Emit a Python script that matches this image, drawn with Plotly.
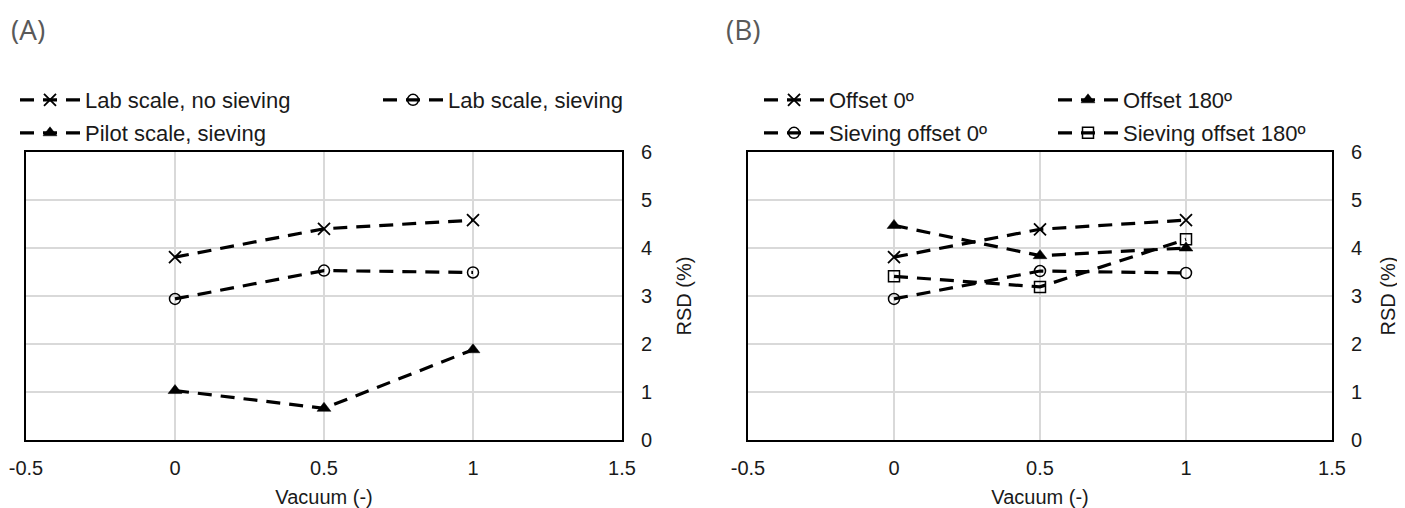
import plotly.graph_objects as go

# ---- data ----
vacuum = [0, 0.5, 1]

a_names = ["Lab scale, no sieving", "Lab scale, sieving", "Pilot scale, sieving"]
a_lab_no_sieving = [3.81, 4.40, 4.58]
a_lab_sieving = [2.94, 3.53, 3.49]
a_pilot_sieving = [1.03, 0.66, 1.88]

b_names = ["Offset 0º", "Offset 180º", "Sieving offset 0º", "Sieving offset 180º"]
b_offset0 = [3.81, 4.39, 4.58]
b_offset180 = [4.47, 3.84, 4.00]
b_sieving_offset0 = [2.94, 3.52, 3.48]
b_sieving_offset180 = [3.41, 3.19, 4.18]

x_ticks = [-0.5, 0, 0.5, 1, 1.5]
y_ticks = [0, 1, 2, 3, 4, 5, 6]

# ---- style ----
OFF = 8                      # page body margin in the browser
W, H = 1405 - OFF, 508 - OFF  # figure size so it ends at the window edge
FONT = "Liberation Sans, Arial, sans-serif"
DASH = "14px,9px"
LW = 3.2

def px_x(p):
    return (p - OFF) / W

def px_y(p):
    return 1 - (p - OFF) / H

sym = {
    "x": dict(symbol="x-thin-open", size=12, line=dict(width=1.8, color="black"), color="black"),
    "o": dict(symbol="circle-open", size=11, line=dict(width=1.5, color="black"), color="black"),
    "t": dict(symbol="triangle-up", size=12, line=dict(width=0.5, color="black"), color="black"),
    "s": dict(symbol="square-open", size=11, line=dict(width=1.5, color="black"), color="black"),
}

fig = go.Figure()

def add(xax, yax, y, name, mk, legend):
    fig.add_trace(go.Scatter(
        x=vacuum, y=y, name=name, mode="lines+markers",
        line=dict(color="black", width=LW, dash=DASH),
        marker=sym[mk], xaxis=xax, yaxis=yax, legend=legend,
    ))

add("x", "y", a_lab_no_sieving, a_names[0], "x", "legend")
add("x", "y", a_lab_sieving, a_names[1], "o", "legend")
add("x", "y", a_pilot_sieving, a_names[2], "t", "legend2")

add("x2", "y2", b_offset0, b_names[0], "x", "legend3")
add("x2", "y2", b_offset180, b_names[1], "t", "legend3")
add("x2", "y2", b_sieving_offset0, b_names[2], "o", "legend4")
add("x2", "y2", b_sieving_offset180, b_names[3], "s", "legend4")

ydom = [px_y(440), px_y(152)]

def xaxis(dom, anchor):
    return dict(
        domain=dom, anchor=anchor, range=[-0.5, 1.5], tickvals=x_ticks,
        ticktext=[f"{v:g}" for v in x_ticks], automargin=False,
        ticklabeloverflow="allow",
        showgrid=True, gridcolor="#d9d9d9", gridwidth=1.5, zeroline=False,
        showline=True, linecolor="black", linewidth=2, mirror=True,
        ticks="", ticklabelstandoff=9,
        tickfont=dict(family=FONT, size=20, color="#1a1a1a"),
        title=dict(text="Vacuum (-)", font=dict(family=FONT, size=20, color="#1a1a1a"), standoff=17),
    )

def yaxis(anchor, title_standoff):
    return dict(
        domain=ydom, anchor=anchor, range=[0, 6], tickvals=y_ticks, side="right",
        automargin=False, ticklabeloverflow="allow",
        showgrid=True, gridcolor="#d9d9d9", gridwidth=1.5, zeroline=False,
        showline=True, linecolor="black", linewidth=2, mirror=True,
        ticks="", ticklabelstandoff=13,
        tickfont=dict(family=FONT, size=20, color="#1a1a1a"),
        title=dict(text="RSD (%)", font=dict(family=FONT, size=20, color="#1a1a1a"),
                   standoff=title_standoff),
    )

def legend(xp, yp, ew):
    return dict(
        xref="container", yref="container",
        x=max(px_x(xp), 0), y=px_y(yp), xanchor="left", yanchor="middle",
        orientation="h", entrywidth=ew, entrywidthmode="pixels",
        itemwidth=60, bgcolor="rgba(0,0,0,0)", borderwidth=0,
        font=dict(family=FONT, size=22, color="#1a1a1a"),
        itemclick=False, itemdoubleclick=False, tracegroupgap=0,
    )

fig.update_layout(
    width=W, height=H, margin=dict(l=0, r=0, t=0, b=0, autoexpand=False),
    paper_bgcolor="white", plot_bgcolor="white",
    xaxis=xaxis([px_x(26), px_x(622)], "y"),
    yaxis=yaxis("x", 26),
    xaxis2=xaxis([px_x(748), px_x(1332)], "y2"),
    yaxis2=yaxis("x2", 20),
    legend=legend(15, 100, 288),
    legend2=legend(15, 133, 288),
    legend3=legend(759, 100, 219),
    legend4=legend(759, 133, 219),
    annotations=[
        dict(text="(A)", x=px_x(9), y=px_y(29), xref="paper", yref="paper",
             xanchor="left", yanchor="middle", showarrow=False,
             font=dict(family="Open Sans, Noto Sans, sans-serif", size=28, color="#595959")),
        dict(text="(B)", x=px_x(724), y=px_y(29), xref="paper", yref="paper",
             xanchor="left", yanchor="middle", showarrow=False,
             font=dict(family="Open Sans, Noto Sans, sans-serif", size=28, color="#595959")),
    ],
    showlegend=True,
)

fig.write_html("out.html")
